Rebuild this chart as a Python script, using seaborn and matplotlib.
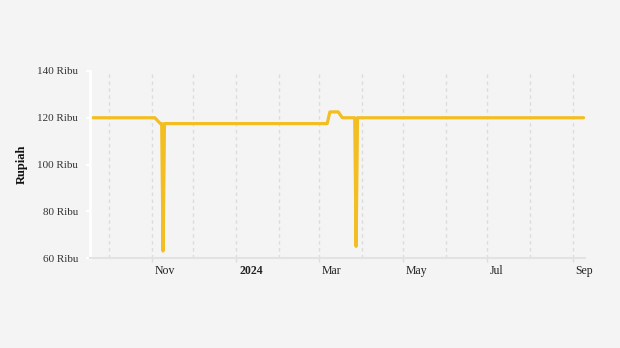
import matplotlib
matplotlib.use("Agg")
import matplotlib.pyplot as plt
from matplotlib.transforms import ScaledTranslation
import seaborn as sns
import pandas as pd

# Data (price in Ribu Rupiah)
dates = ["2023-09-19", "2023-11-03", "2023-11-07", "2023-11-08", "2023-11-09", "2023-11-10",
         "2024-03-07", "2024-03-09", "2024-03-15", "2024-03-18", "2024-03-27", "2024-03-28",
         "2024-03-29", "2024-09-09"]
prices = [120, 120, 117.5, 117.5, 63, 117.5,
          117.5, 122.5, 122.5, 120, 120, 65,
          120, 120]
y_ticks = [60, 80, 100, 120, 140]
y_tick_labels = ["60 Ribu", "80 Ribu", "100 Ribu", "120 Ribu", "140 Ribu"]
x_major = ["2023-11-01", "2024-01-01", "2024-03-01", "2024-05-01", "2024-07-01", "2024-09-01"]
x_major_labels = ["Nov", "2024", "Mar", "May", "Jul", "Sep"]
x_minor = ["2023-10-01", "2023-12-01", "2024-02-01", "2024-04-01", "2024-06-01", "2024-08-01"]

df = pd.DataFrame({"date": pd.to_datetime(dates), "price": prices})

sns.set_theme(style="white")
plt.rcParams["font.family"] = ["Liberation Serif", "DejaVu Serif"]

bg = "#f4f4f4"
fig = plt.figure(figsize=(6.2, 3.48), dpi=100, facecolor=bg)
ax = fig.add_axes([90/620, 1-258/348, (585-90)/620, (258-71)/348])
ax.set_facecolor(bg)

sns.lineplot(data=df, x="date", y="price", ax=ax, color="#F2BE22", linewidth=2.3)

ax.set_xlim(pd.Timestamp("2023-09-17"), pd.Timestamp("2024-09-10"))
ax.set_ylim(60, 140)

ax.set_yticks(y_ticks)
ax.set_yticklabels(y_tick_labels, fontsize=8, color="#333333")
ax.set_xticks(pd.to_datetime(x_major))
ax.set_xticklabels([])
ax.set_xticks(pd.to_datetime(x_minor), minor=True)

# x labels: left-aligned, slightly to the right of each month line
lbl_trans = ax.get_xaxis_transform() + ScaledTranslation(3/100, -13/100, fig.dpi_scale_trans)
for d, t in zip(pd.to_datetime(x_major), x_major_labels):
    ax.text(d, 0, t, transform=lbl_trans, ha="left", va="center", fontsize=8.5,
            color="#222222", fontweight="bold" if t == "2024" else "normal")

ax.tick_params(axis="y", length=3, width=1.5, color="white", pad=5.5, left=True)
ax.tick_params(axis="x", which="major", length=3, width=1, color="#dddddd", bottom=True)
ax.tick_params(axis="x", which="minor", length=0)

ax.grid(False)
ax.xaxis.grid(True, which="both", color="#dcdcdc", linestyle=(0, (2.5, 2.5)), linewidth=1)
ax.set_axisbelow(True)

for s in ["top", "right"]:
    ax.spines[s].set_visible(False)
ax.spines["left"].set_color("white")
ax.spines["left"].set_linewidth(2)
ax.spines["bottom"].set_color("#e2e2e2")
ax.spines["bottom"].set_linewidth(1.5)

ax.set_xlabel("")
ax.set_ylabel("Rupiah", fontsize=9, fontweight="bold", color="#111111", labelpad=7)

fig.savefig("out.png", dpi=100, facecolor=bg)
